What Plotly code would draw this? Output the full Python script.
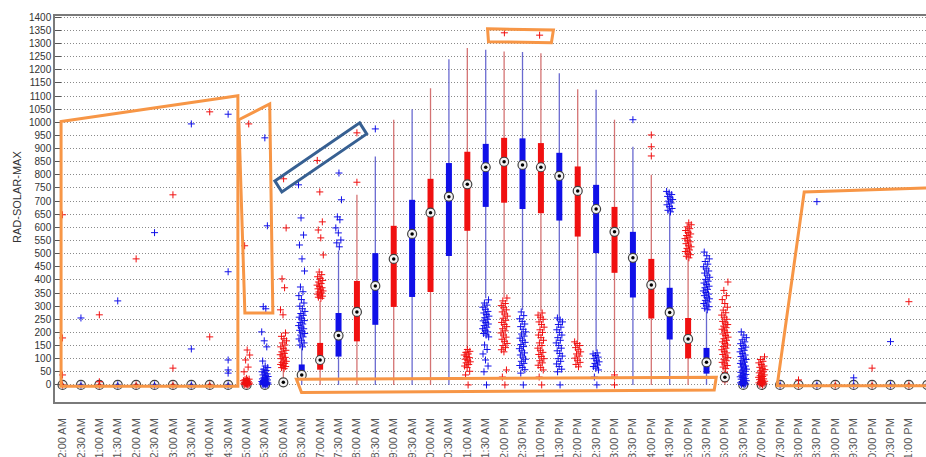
import plotly.graph_objects as go

# Half-hourly time slots
TIME_LABELS = [
    "12:00 AM", "12:30 AM", "1:00 AM", "1:30 AM", "2:00 AM", "2:30 AM",
    "3:00 AM", "3:30 AM", "4:00 AM", "4:30 AM", "5:00 AM", "5:30 AM",
    "6:00 AM", "6:30 AM", "7:00 AM", "7:30 AM", "8:00 AM", "8:30 AM",
    "9:00 AM", "9:30 AM", "10:00 AM", "10:30 AM", "11:00 AM", "11:30 AM",
    "12:00 PM", "12:30 PM", "1:00 PM", "1:30 PM", "2:00 PM", "2:30 PM",
    "3:00 PM", "3:30 PM", "4:00 PM", "4:30 PM", "5:00 PM", "5:30 PM",
    "6:00 PM", "6:30 PM", "7:00 PM", "7:30 PM", "8:00 PM", "8:30 PM",
    "9:00 PM", "9:30 PM", "10:00 PM", "10:30 PM", "11:00 PM", "11:30 PM",
]
Y_TICKS = [0, 50, 100, 150, 200, 250, 300, 350, 400, 450, 500, 550, 600, 650, 700,
           750, 800, 850, 900, 950, 1000, 1050, 1100, 1150, 1200, 1250, 1300, 1350, 1400]

# Box statistics per slot (None = no box drawn, only the median marker)
MEDIAN = [0, 0, 0, 0, 0, 0, 0, 0, 0, 0, 0, 0,
          10, 38, 95, 188, 278, 377, 480, 575, 656, 717, 764, 829,
          850, 838, 829, 796, 739, 670, 583, 484, 381, 276, 175, 86,
          29, 0, 0, 0, 0, 0, 0, 0, 0, 0, 0, 0]
Q1 = [None, None, None, None, None, None, None, None, None, None, None, None,
      0, 25, 58, 108, 166, 229, 297, 335, 354, 491, 587, 678,
      694, 670, 654, 626, 565, 502, 427, 333, 253, 173, 101, 43,
      10, None, None, None, None, None, None, None, None, None, None, None]
Q3 = [None, None, None, None, None, None, None, None, None, None, None, None,
      25, 78, 160, 274, 396, 502, 606, 705, 785, 845, 888, 918,
      941, 939, 921, 884, 832, 762, 678, 583, 480, 370, 255, 141,
      50, None, None, None, None, None, None, None, None, None, None, None]
WHISKER_LO = [None, None, None, None, None, None, None, None, None, None, None, None,
              0, 0, 0, 0, 0, 0, 0, 0, 0, 0, 140, 330,
              335, 285, 280, 260, 170, 128, 45, 0, 0, 0, 0, 0,
              0, None, None, None, None, None, None, None, None, None, None, None]
WHISKER_HI = [None, None, None, None, None, None, None, None, None, None, None, None,
              60, 140, 320, 512, 724, 870, 1010, 1050, 1130, 1240, 1283, 1276,
              1270, 1268, 1263, 1187, 1126, 1124, 1010, 907, 800, 655, 480, 280,
              60, None, None, None, None, None, None, None, None, None, None, None]

# Outlying readings per slot
OUTLIERS = [
    [0, 38, 179, 648],
    [0, 255],
    [0, 12, 267],
    [0, 320],
    [0, 480],
    [0, 580],
    [0, 64, 724],
    [0, 137, 994],
    [0, 183, 1040],
    [0, 45, 57, 95, 431, 1031],
    [0, 1, 2, 3, 4, 5, 6, 7, 8, 10, 12, 14, 16, 18, 20, 22, 25, 50, 68, 95, 114, 133, 530, 994],
    [0, 1, 2, 3, 4, 5, 6, 7, 8, 9, 10, 11, 13, 15, 17, 19, 21, 23, 26, 29, 32, 35, 38, 42, 46,
     50, 55, 60, 66, 72, 91, 145, 168, 202, 290, 298, 606, 941],
    [62, 66, 70, 74, 78, 82, 86, 90, 95, 100, 105, 110, 115, 120, 126, 132, 138, 145, 152,
     160, 168, 176, 185, 198, 267, 286, 370, 404, 598, 785],
    [145, 152, 160, 168, 175, 183, 190, 196, 202, 208, 214, 220, 226, 232, 238, 245, 252,
     258, 265, 272, 280, 290, 300, 312, 325, 340, 355, 373, 434, 480, 533, 571, 636, 762],
    [330, 334, 338, 342, 346, 350, 354, 358, 362, 366, 370, 375, 380, 386, 392, 398, 405,
     412, 420, 430, 495, 560, 590, 621, 735, 855],
    [526, 541, 552, 579, 598, 629, 640, 705, 807],
    [772, 960],
    [975],
    [], [], [], [],
    [0, 38, 52, 66, 72, 78, 84, 88, 94, 98, 104, 108, 114, 118, 124, 128, 135],
    [0, 50, 72, 95, 118, 135, 152, 183, 190, 196, 202, 208, 214, 220, 226, 232, 238, 244,
     250, 256, 262, 268, 274, 280, 288, 296, 304, 312, 324],
    [0, 30, 57, 126, 134, 142, 150, 158, 166, 174, 182, 190, 198, 206, 214, 222, 230, 238,
     246, 254, 262, 270, 278, 286, 294, 302, 310, 320, 331, 1341],
    [0, 45, 58, 66, 74, 82, 90, 98, 106, 114, 122, 130, 138, 146, 154, 162, 170, 178, 186,
     194, 202, 212, 222, 232, 242, 252, 264, 278],
    [0, 30, 57, 66, 75, 84, 92, 100, 108, 116, 124, 132, 140, 150, 160, 170, 180, 190, 200,
     210, 220, 230, 240, 250, 258, 266, 274, 1332],
    [0, 50, 60, 70, 80, 90, 100, 110, 120, 130, 140, 150, 160, 170, 180, 190, 200, 210,
     220, 230, 240, 248, 255],
    [69, 78, 86, 94, 102, 110, 118, 126, 134, 142, 150, 158, 164],
    [0, 30, 57, 64, 70, 76, 82, 88, 94, 100, 106, 112, 118, 122],
    [0, 30, 38],
    [1010],
    [872, 907, 952],
    [659, 665, 672, 679, 686, 693, 700, 706, 712, 718, 725, 731, 737],
    [484, 490, 496, 502, 508, 514, 520, 526, 532, 538, 545, 551, 557, 563, 569, 575, 581,
     588, 595, 602, 610, 617],
    [286, 292, 298, 304, 310, 316, 322, 328, 334, 340, 346, 352, 358, 364, 370, 376, 382,
     388, 395, 402, 410, 418, 426, 434, 442, 450, 460, 470, 480, 492, 506],
    [62, 68, 74, 80, 86, 92, 98, 104, 110, 116, 122, 128, 134, 140, 146, 152, 158, 164,
     170, 176, 182, 188, 194, 200, 206, 212, 218, 224, 230, 236, 242, 250, 258, 266, 275,
     285, 296, 310, 325, 340, 360, 392],
    [0, 2, 4, 6, 8, 10, 13, 16, 19, 22, 25, 28, 31, 34, 37, 40, 44, 48, 52, 56, 60, 64, 68,
     72, 77, 82, 87, 92, 97, 102, 108, 114, 120, 126, 132, 138, 144, 150, 157, 164, 172,
     180, 190, 202],
    [0, 2, 4, 6, 8, 10, 12, 14, 17, 20, 23, 26, 29, 32, 35, 38, 42, 46, 50, 54, 58, 62, 67,
     72, 78, 84, 90, 97, 107],
    [0],
    [0, 19],
    [0, 698],
    [0],
    [0, 27],
    [0, 64],
    [0, 165],
    [0, 317],
    [0],
]

# Highlight outlines, vertices given as (slot position, value)
ORANGE_OUTLINES = [
    [(-0.08, 1003), (9.53, 1101), (9.53, -5), (-0.08, -5)],
    [(9.58, 1010), (11.26, 1070), (11.43, 274), (9.91, 274)],
    [(12.71, 22), (35.53, 29), (35.42, -19), (12.99, -29)],
    [(23.1, 1356), (26.68, 1352), (26.57, 1303), (23.15, 1307)],
    [(38.84, -3), (40.31, 735), (46.88, 750), (47.6, 752), (47.6, -3)],
]
BLUE_OUTLINE = [(11.54, 777), (16.15, 998), (16.53, 956), (11.92, 735)]

RED, BLUE = "#f01010", "#1010e8"
RED_WHISKER, BLUE_WHISKER = "rgba(205,90,90,0.85)", "rgba(80,80,200,0.85)"


def slot_colors(i):
    return (RED, RED_WHISKER) if i % 2 == 0 else (BLUE, BLUE_WHISKER)


fig = go.Figure()

# Whiskers and boxes (compact style: thin whisker line, thick box bar)
for parity in (0, 1):
    wx, wy, bx, by = [], [], [], []
    for i in range(len(TIME_LABELS)):
        if i % 2 != parity or Q1[i] is None:
            continue
        wx += [i, i, None]
        wy += [WHISKER_LO[i], WHISKER_HI[i], None]
        bx += [i, i, None]
        by += [Q1[i], Q3[i], None]
    box_col, wh_col = slot_colors(parity)
    fig.add_trace(go.Scatter(x=wx, y=wy, mode="lines", line=dict(color=wh_col, width=1.3),
                             hoverinfo="skip", showlegend=False))
    fig.add_trace(go.Scatter(x=bx, y=by, mode="lines", line=dict(color=box_col, width=6),
                             hoverinfo="skip", showlegend=False))

# Medians: ringed circle with a black centre dot
slots = list(range(len(TIME_LABELS)))
fig.add_trace(go.Scatter(x=slots, y=MEDIAN, mode="markers",
                         marker=dict(symbol="circle", size=9, color="#f4f4f4",
                                     line=dict(color="#404040", width=1.2)),
                         hoverinfo="skip", showlegend=False))
fig.add_trace(go.Scatter(x=slots, y=MEDIAN, mode="markers",
                         marker=dict(symbol="circle", size=3.5, color="black"),
                         hoverinfo="skip", showlegend=False))

# Outliers, spread sideways when a slot has many of them
GOLDEN = 0.6180339887
for parity in (0, 1):
    ox, oy = [], []
    for i in range(parity, len(TIME_LABELS), 2):
        vals = OUTLIERS[i]
        spread = 0.36 if len(vals) >= 8 else 0.0
        for k, v in enumerate(vals):
            ox.append(i + spread * (((k + 1) * GOLDEN) % 1.0 - 0.5))
            oy.append(v)
    col = slot_colors(parity)[0]
    fig.add_trace(go.Scatter(x=ox, y=oy, mode="markers",
                             marker=dict(symbol="cross-thin", size=5,
                                         line=dict(color=col, width=1)),
                             hoverinfo="skip", showlegend=False))


def outline_path(points):
    return "M " + " L ".join(f"{x},{y}" for x, y in points) + " Z"


shapes = [dict(type="path", path=outline_path(p), xref="x", yref="y",
               line=dict(color="#f79646", width=3), layer="above")
          for p in ORANGE_OUTLINES]
shapes.append(dict(type="path", path=outline_path(BLUE_OUTLINE), xref="x", yref="y",
                   line=dict(color="#376092", width=3), layer="above"))

fig.update_layout(
    width=926, height=457,
    margin=dict(l=55, r=0, t=16, b=55),
    paper_bgcolor="white", plot_bgcolor="white",
    font=dict(family="Liberation Sans, Arial, sans-serif", size=10, color="#333"),
    shapes=shapes,
    annotations=[dict(text="RAD-SOLAR-MAX", x=-0.043, y=0.53, xref="paper", yref="paper",
                      textangle=-90, showarrow=False, xanchor="center", yanchor="middle",
                      font=dict(size=11, color="#333"))],
)
fig.update_xaxes(
    range=[-0.41, 46.93], tickmode="array", tickvals=slots, ticktext=TIME_LABELS,
    tickangle=-90, tickfont=dict(size=11, color="#555"), ticklabelstandoff=10,
    showgrid=False, zeroline=False, showline=True, linecolor="#7a7a7a", linewidth=1.5,
    mirror=True, ticks="", automargin=False,
)
fig.update_yaxes(
    range=[-65, 1405], tickmode="array", tickvals=Y_TICKS,
    tickfont=dict(size=10, color="#333"), ticks="inside", ticklen=6, tickcolor="#555",
    showgrid=True, gridcolor="#8a8a8a", griddash="1px,2px", gridwidth=1,
    zeroline=False, showline=True, linecolor="#7a7a7a", linewidth=1.5, mirror=True,
    automargin=False,
)

fig.write_html("out.html")
